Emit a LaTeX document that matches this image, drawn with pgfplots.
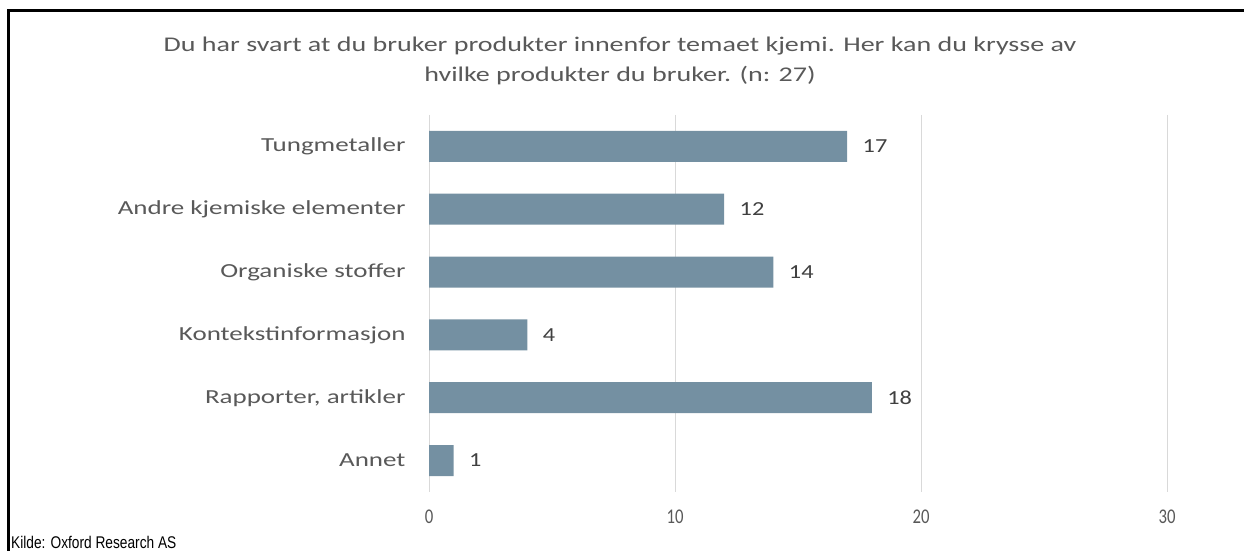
\documentclass[border=0pt]{standalone}
\usepackage{fontspec}
\setmainfont{Carlito}
\newfontfamily\catfont[FakeStretch=1.355]{Carlito}
\newfontfamily\titlefont[FakeStretch=1.34]{Carlito}
\newfontfamily\tickfont[FakeStretch=0.8]{Carlito}
\newfontfamily\valfont[FakeStretch=1.22]{Carlito}
\newfontfamily\srcfont[FakeStretch=0.81]{Liberation Sans}
\usepackage{pgfplots}
\pgfplotsset{compat=1.18}
\definecolor{cTxt}{HTML}{595959}
\definecolor{cVal}{HTML}{404040}
\definecolor{cGrid}{HTML}{D9D9D9}
\definecolor{cBar}{HTML}{7490A2}
\begin{document}
\begin{tikzpicture}[x=1bp,y=1bp]
\useasboundingbox (0,0) rectangle (1244,551);
\draw[line width=2.8bp] (8.6,0) -- (8.6,540.5) -- (1244,540.5);
\node[text=cTxt, align=center, font=\titlefont\fontsize{21}{30}\selectfont] at (620,490) {Du har svart at du bruker produkter innenfor temaet kjemi. Her kan du krysse av\\hvilke produkter du bruker. (n: 27)};
\node[anchor=base west, inner sep=0pt, font=\srcfont\fontsize{17}{19}\selectfont] at (11,2) {Kilde: Oxford Research AS};
\begin{axis}[
  at={(429bp,59bp)}, anchor=south west, scale only axis,
  width=738bp, height=377bp,
  xmin=0, xmax=30, ymin=-0.5, ymax=5.5, y dir=reverse,
  xbar, bar width=31bp,
  ytick={0,1,2,3,4,5},
  yticklabels={Tungmetaller, Andre kjemiske elementer, Organiske stoffer, Kontekstinformasjon, {Rapporter, artikler}, Annet},
  xtick={0,10,20,30},
  xmajorgrids, grid style={draw=cGrid, line width=1bp},
  axis line style={draw=none},
  major tick length=0pt,
  /pgf/number format/assume math mode=true,
  yticklabel style={font=\catfont\fontsize{20}{24}\selectfont, text=cTxt, xshift=-20bp},
  xticklabel style={font=\tickfont\fontsize{21}{24}\selectfont, text=cTxt, yshift=-14bp},
]
\addplot[fill=cBar, draw=none, nodes near coords,
  nodes near coords style={font=\valfont\fontsize{20}{24}\selectfont, text=cVal, anchor=west, xshift=12bp}]
  coordinates {(17,0) (12,1) (14,2) (4,3) (18,4) (1,5)};
\end{axis}
\end{tikzpicture}
\end{document}
